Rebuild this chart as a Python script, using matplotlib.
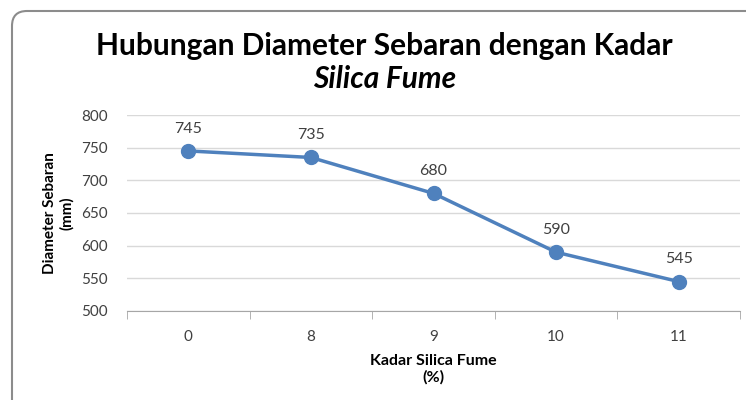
import matplotlib
matplotlib.use('Agg')
import matplotlib.pyplot as plt
from matplotlib.patches import FancyBboxPatch

# Data
kadar = ['0', '8', '9', '10', '11']
diameter = [745, 735, 680, 590, 545]
y_ticks = [500, 550, 600, 650, 700, 750, 800]

plt.rcParams['font.family'] = ['Lato', 'DejaVu Sans']

fig = plt.figure(figsize=(7.46, 4.0), dpi=100)

# chart border in inches (rounded, runs off the right/bottom of the image)
border = FancyBboxPatch((0.12, -0.5), 7.6, 4.39,
                        boxstyle='round,pad=0,rounding_size=0.15',
                        transform=fig.dpi_scale_trans, facecolor='none',
                        edgecolor='#8c8c8c', linewidth=1.5, zorder=-1)
fig.patches.append(border)

ax = fig.add_axes([127 / 746, 89 / 400, 613 / 746, 196 / 400])
ax.set_facecolor('none')

x = list(range(len(kadar)))
ax.plot(x, diameter, color='#4F81BD', linewidth=2.5, marker='o',
        markersize=10, zorder=3)
for xi, yi in zip(x, diameter):
    ax.annotate(str(yi), (xi, yi), xytext=(0, 11), textcoords='offset points',
                ha='center', va='bottom', fontsize=11.5, color='#404040')

ax.set_xlim(-0.5, len(kadar) - 0.5)
ax.set_ylim(500, 800)
ax.set_yticks(y_ticks)
ax.grid(axis='y', color='#d9d9d9', linewidth=1)
ax.set_axisbelow(True)

ax.set_xticks(x)
ax.set_xticklabels(kadar)
ax.set_xticks([i - 0.5 for i in range(len(kadar) + 1)], minor=True)
ax.tick_params(axis='x', which='major', length=0, pad=14, labelsize=11,
               labelcolor='#404040')
ax.tick_params(axis='x', which='minor', length=6, direction='out',
               color='#a6a6a6')
ax.tick_params(axis='y', length=0, pad=14, labelsize=11, labelcolor='#404040')

for side in ['top', 'right', 'left']:
    ax.spines[side].set_visible(False)
ax.spines['bottom'].set_color('#a6a6a6')

ax.set_xlabel('Kadar Silica Fume\n(%)', fontsize=11.5, fontweight='bold',
              labelpad=7, linespacing=1.2)
ax.set_ylabel('Diameter Sebaran\n(mm)', fontsize=11, fontweight='bold',
              labelpad=5, linespacing=1.2)

fig.text(0.515, 0.885, 'Hubungan Diameter Sebaran dengan Kadar',
         ha='center', va='center', fontsize=21.5, fontweight='bold')
fig.text(0.515, 0.802, 'Silica Fume', ha='center', va='center',
         fontsize=21.5, fontweight='bold', style='italic')

plt.savefig('out.png', dpi=100)
